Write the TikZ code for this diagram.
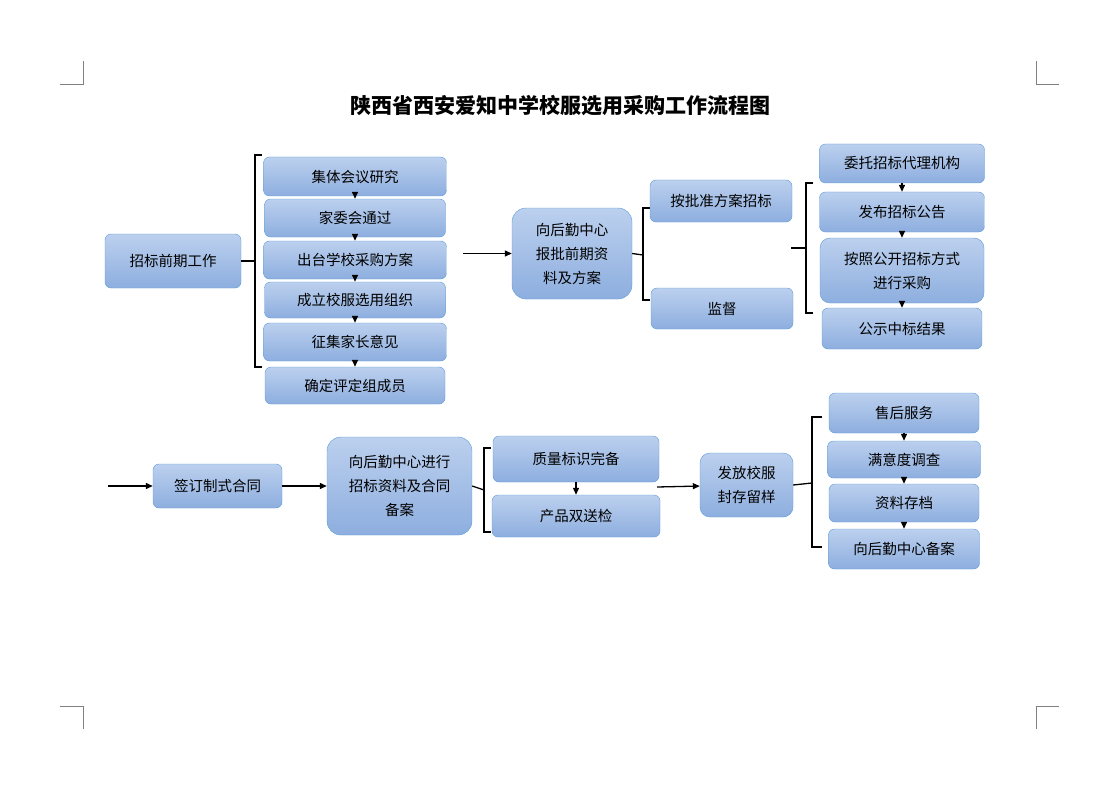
\documentclass[tikz,border=0pt]{standalone}
\usepackage{fontspec}
\setmainfont{Noto Sans CJK SC}
\usetikzlibrary{arrows.meta}
\definecolor{boxtop}{HTML}{BCD0EE}
\definecolor{boxbot}{HTML}{8DAEDF}
\definecolor{boxline}{HTML}{5B9BD5}
\begin{document}
\begin{tikzpicture}[x=1pt, y=-1pt,
    box/.style={draw=boxline, top color=boxtop, bottom color=boxbot, rounded corners=6pt,
      align=center, inner sep=0pt, font=\fontsize{14.5}{24}\selectfont},
    arrow/.style={-{Triangle[length=7pt,width=6pt]}, line width=1.3pt},
    brace/.style={line width=1.3pt},
    cropmark/.style={line width=0.5pt, gray}
  ]
  \useasboundingbox (0,0) rectangle (1117,789);
  % corner marks
  \draw[cropmark] (60,84) -- (83,84) -- (83,61);
  \draw[cropmark] (1059,84) -- (1036,84) -- (1036,61);
  \draw[cropmark] (60,706) -- (83,706) -- (83,729);
  \draw[cropmark] (1059,706) -- (1036,706) -- (1036,729);

  % title
  \node (title) at (560,106) {\fontsize{21}{24}\selectfont\bfseries 陕西省西安爱知中学校服选用采购工作流程图};

  % preparation
  \node[box, minimum width=136, minimum height=54] (prep) at (173,261) {招标前期工作};
  \node[box, minimum width=183, minimum height=39] (meet) at (355,176.5) {集体会议研究};
  \node[box, minimum width=181, minimum height=38] (family) at (355,218) {家委会通过};
  \node[box, minimum width=183, minimum height=38] (plan) at (355,260) {出台学校采购方案};
  \node[box, minimum width=181, minimum height=36] (group) at (355,300) {成立校服选用组织};
  \node[box, minimum width=183, minimum height=38] (opinion) at (355,342) {征集家长意见};
  \node[box, minimum width=180, minimum height=37] (jury) at (355,385.5) {确定评定组成员};
  \draw[arrow] (meet) -- (family);
  \draw[arrow] (family) -- (plan);
  \draw[arrow] (plan) -- (group);
  \draw[arrow] (group) -- (opinion);
  \draw[arrow] (opinion) -- (jury);
  \draw[brace] (prep.east) -- (255,261);
  \draw[brace] (262,155) -- (255,155) -- (255,367) -- (262,367);

  % report
  \node[box, minimum width=120, minimum height=91, rounded corners=14pt] (report) at (572,253.5) {向后勤中心\\报批前期资\\料及方案};
  \coordinate (in1) at (463,253.5);
  \draw[arrow] (in1) -- (report);
  \draw[brace] (report.east) -- (643,255);
  \draw[brace] (650,208) -- (643,208) -- (643,300) -- (650,300);
  \node[box, minimum width=142, minimum height=42] (tender) at (721,201) {按批准方案招标};
  \node[box, minimum width=142, minimum height=41] (watch) at (722,308.5) {监督};

  % tender steps
  \draw[brace] (791,248) -- (806,248);
  \draw[brace] (813,183) -- (806,183) -- (806,313) -- (813,313);
  \node[box, minimum width=165, minimum height=39] (agent) at (902,163.5) {委托招标代理机构};
  \node[box, minimum width=165, minimum height=40] (notice) at (902,212) {发布招标公告};
  \node[box, minimum width=164, minimum height=65, rounded corners=10pt] (buy) at (902,270.5) {按照公开招标方式\\进行采购};
  \node[box, minimum width=160, minimum height=41] (result) at (902,328.5) {公示中标结果};
  \draw[arrow] (agent) -- (notice);
  \draw[arrow] (notice) -- (buy);
  \draw[arrow] (buy) -- (result);

  % contract
  \coordinate (in2) at (108,486);
  \node[box, minimum width=129, minimum height=44] (contract) at (217.5,486) {签订制式合同};
  \draw[arrow] (in2) -- (contract);
  \node[box, minimum width=145, minimum height=98, rounded corners=14pt] (file) at (399.5,486) {向后勤中心进行\\招标资料及合同\\备案};
  \draw[arrow] (contract) -- (file);
  \draw[brace] (file.east) -- (484,490);
  \draw[brace] (491,448) -- (484,448) -- (484,532) -- (491,532);
  \node[box, minimum width=166, minimum height=46] (quality) at (576,459) {质量标识完备};
  \node[box, minimum width=168, minimum height=42] (check) at (576,516) {产品双送检};
  \draw[arrow] (quality) -- (check);

  % delivery
  \coordinate (in3) at (657,487);
  \node[box, minimum width=93, minimum height=64, rounded corners=10pt] (issue) at (746.5,485) {发放校服\\封存留样};
  \draw[arrow] (in3) -- (issue);
  \draw[brace] (issue.east) -- (812,483);
  \draw[brace] (822,417) -- (812,417) -- (812,547) -- (822,547);
  \node[box, minimum width=150, minimum height=40] (service) at (904,413) {售后服务};
  \node[box, minimum width=153, minimum height=37] (survey) at (904,459.5) {满意度调查};
  \node[box, minimum width=150, minimum height=38] (archive) at (904,503) {资料存档};
  \node[box, minimum width=151, minimum height=40] (record) at (904,549) {向后勤中心备案};
  \draw[arrow] (service) -- (survey);
  \draw[arrow] (survey) -- (archive);
  \draw[arrow] (archive) -- (record);
\end{tikzpicture}
\end{document}
